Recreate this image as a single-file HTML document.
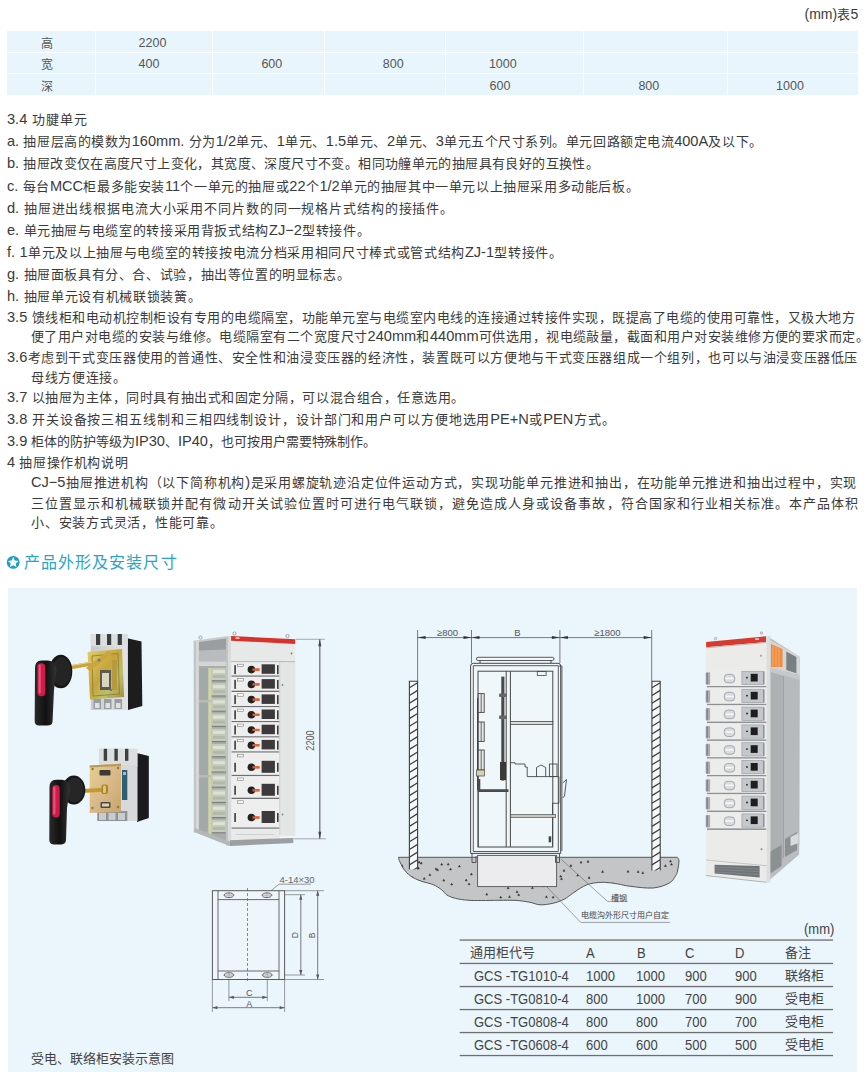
<!DOCTYPE html>
<html lang="zh-CN"><head><meta charset="utf-8">
<style>
*{margin:0;padding:0;box-sizing:border-box}
html,body{width:867px;height:1072px;background:#fff;overflow:hidden}
body{position:relative;font-family:"Liberation Sans",sans-serif;color:#3a3a3a}
i{font-style:normal}
body{text-spacing-trim:space-all}
.z{font-size:13px;letter-spacing:var(--ls,0.3px)}
.a{position:absolute;white-space:nowrap}
#tbl{position:absolute;left:0;top:0}
.tc{position:absolute;font-size:12.5px;line-height:14px;color:#555;white-space:nowrap}
.z2{font-size:12px}
.c{position:absolute;background:#e9f5fc}
.L{position:absolute;left:7px;font-size:14.6px;line-height:16px;height:16px;white-space:nowrap}
.L.ind{left:31px}
.J{text-align:justify;text-align-last:justify}
#pic{position:absolute;left:8px;top:588px;width:849px;height:484px;background:#eaf5fc}
.dt{position:absolute;font-size:11px;line-height:12px;color:#555;white-space:nowrap}
.lb{position:absolute;font-size:8px;line-height:10px;color:#444;white-space:nowrap}
.bt{position:absolute;font-size:13px;line-height:16px;color:#444;white-space:nowrap}
.bt.cx{font-size:14.3px;transform:scaleX(0.91);transform-origin:0 0}
.st{font-family:"Liberation Sans",sans-serif;font-size:11px;fill:#555}
</style></head><body>
<div class="a" style="left:804.5px;top:4px;font-size:14px">(mm)<i class="z">表</i>5</div>

<div id="tbl">
<div class="c" style="left:7px;top:31px;width:87.9px;height:21.4px"></div>
<div class="c" style="left:95.9px;top:31px;width:116.0px;height:21.4px"></div>
<div class="c" style="left:212.9px;top:31px;width:111.0px;height:21.4px"></div>
<div class="c" style="left:324.9px;top:31px;width:120.0px;height:21.4px"></div>
<div class="c" style="left:445.9px;top:31px;width:136.7px;height:21.4px"></div>
<div class="c" style="left:583.6px;top:31px;width:143.0px;height:21.4px"></div>
<div class="c" style="left:727.6px;top:31px;width:130.7px;height:21.4px"></div>
<div class="c" style="left:7px;top:53.4px;width:87.9px;height:20.0px"></div>
<div class="c" style="left:95.9px;top:53.4px;width:116.0px;height:20.0px"></div>
<div class="c" style="left:212.9px;top:53.4px;width:111.0px;height:20.0px"></div>
<div class="c" style="left:324.9px;top:53.4px;width:120.0px;height:20.0px"></div>
<div class="c" style="left:445.9px;top:53.4px;width:136.7px;height:20.0px"></div>
<div class="c" style="left:583.6px;top:53.4px;width:143.0px;height:20.0px"></div>
<div class="c" style="left:727.6px;top:53.4px;width:130.7px;height:20.0px"></div>
<div class="c" style="left:7px;top:74.4px;width:87.9px;height:20.4px"></div>
<div class="c" style="left:95.9px;top:74.4px;width:116.0px;height:20.4px"></div>
<div class="c" style="left:212.9px;top:74.4px;width:111.0px;height:20.4px"></div>
<div class="c" style="left:324.9px;top:74.4px;width:120.0px;height:20.4px"></div>
<div class="c" style="left:445.9px;top:74.4px;width:136.7px;height:20.4px"></div>
<div class="c" style="left:583.6px;top:74.4px;width:143.0px;height:20.4px"></div>
<div class="c" style="left:727.6px;top:74.4px;width:130.7px;height:20.4px"></div>
<div class="tc z2" style="left:41px;top:37px">高</div>
<div class="tc z2" style="left:41px;top:58px">宽</div>
<div class="tc z2" style="left:41px;top:80px">深</div>
<div class="tc" style="left:138.6px;top:36px">2200</div>
<div class="tc" style="left:138.6px;top:57px">400</div>
<div class="tc" style="left:261.4px;top:57px">600</div>
<div class="tc" style="left:382.8px;top:57px">800</div>
<div class="tc" style="left:488.90000000000003px;top:57px">1000</div>
<div class="tc" style="left:489.6px;top:78.5px">600</div>
<div class="tc" style="left:638.4px;top:78.5px">800</div>
<div class="tc" style="left:776.1px;top:78.5px">1000</div>
</div>
<div class="L J" style="top:111px;width:80.30px">3.4 <i class="z">功腱单元</i></div>
<div class="L J" style="top:133px;width:755.38px">a. <i class="z">抽屉层高的模数为</i>160mm. <i class="z">分为</i>1/2<i class="z">单元、</i>1<i class="z">单元、</i>1.5<i class="z">单元、</i>2<i class="z">单元、</i>3<i class="z">单元五个尺寸系列。单元回路额定电流</i>400A<i class="z">及以下。</i></div>
<div class="L J" style="top:155px;width:592.11px">b. <i class="z">抽屉改变仅在高度尺寸上变化，其宽度、深度尺寸不变。相同功艟单元的抽屉具有良好的互换性。</i></div>
<div class="L J" style="top:178px;width:631.85px">c. <i class="z">每台</i>MCC<i class="z">柜最多能安装</i>11<i class="z">个一单元的抽屉或</i>22<i class="z">个</i>1/2<i class="z">单元的抽屉其中一单元以上抽屉采用多动能后板。</i></div>
<div class="L J" style="top:200px;width:446.55px">d. <i class="z">抽屉进出线根据电流大小采用不同片数的同一规格片式结构的接插件。</i></div>
<div class="L J" style="top:222px;width:363.02px">e. <i class="z">单元抽屉与电缆室的转接采用背扳式结构</i>ZJ−2<i class="z">型转接件。</i></div>
<div class="L J" style="top:244px;width:555.35px">f. 1<i class="z">单元及以上抽屉与电缆室的转接按电流分档采用相同尺寸棒式或管式结构</i>ZJ-1<i class="z">型转接件。</i></div>
<div class="L J" style="top:266px;width:343.01px">g. <i class="z">抽屉面板具有分、合、试验，抽出等位置的明显标志。</i></div>
<div class="L J" style="top:288px;width:193.91px">h. <i class="z">抽屉单元设有机械联锁装簧。</i></div>
<div class="L J" style="top:309px;width:848.23px">3.5 <i class="z">馈线柜和电动机控制柜设有专用的电缆隔室，功能单元室与电缆室内电线的连接通过转接件实现，既提高了电缆的使用可靠性，又极大地方</i></div>
<div class="L ind J" style="top:328px;width:838.06px"><i class="z">便了用户对电缆的安装与维修。电缆隔室有二个宽度尺寸</i>240mm<i class="z">和</i>440mm<i class="z">可供选用，视电缆敲量，截面和用户对安装维修方便的要求而定。</i></div>
<div class="L J" style="top:349px;width:850.78px">3.6<i class="z">考虑到干式变压器使用的普通性、安全性和油浸变压器的经济性，装置既可以方便地与干式变压器组成一个组列，也可以与油浸变压器低压</i></div>
<div class="L ind J" style="top:369px;width:95.11px"><i class="z">母线方便连接。</i></div>
<div class="L J" style="top:389px;width:457.72px">3.7 <i class="z">以抽屉为主体，同时具有抽出式和固定分隔，可以混合组合，任意选用。</i></div>
<div class="L J" style="top:411px;width:608.02px">3.8 <i class="z">开关设备按三相五线制和三相四线制设计，设计部门和用户可以方便地选用</i>PE+N<i class="z">或</i>PEN<i class="z">方式。</i></div>
<div class="L J" style="top:433px;--ls:-0.2px;width:369.02px">3.9 <i class="z">柜体的防护等级为</i>IP30<i class="z">、</i>IP40<i class="z">，也可按用户需要特殊制作。</i></div>
<div class="L J" style="top:454px;width:120.93px">4 <i class="z">抽屉操作机构说明</i></div>
<div class="L ind J" style="top:474px;width:825.64px">CJ−5<i class="z">抽屉推进机构（以下简称机构</i>)<i class="z">是采用螺旋轨迹沿定位件运动方式，实现功能单元推进和抽出，在功能单元推进和抽出过程中，实现</i></div>
<div class="L ind J" style="top:495px;width:827.46px"><i class="z">三位置显示和机械联锁并配有微动开关试验位置时可进行电气联锁，避免造成人身或设备事故，符合国家和行业相关标准。本产品体积</i></div>
<div class="L ind J" style="top:514px;width:192.19px"><i class="z">小、安装方式灵活，性能可靠。</i></div>

<svg class="a" style="left:6px;top:555px" width="15" height="15" viewBox="0 0 15 15"><circle cx="7.2" cy="7.4" r="6.4" fill="#1f9fc4"/><path d="M7.20 2.10 L8.73 5.50 L12.43 5.90 L9.67 8.40 L10.43 12.05 L7.20 10.20 L3.97 12.05 L4.73 8.40 L1.97 5.90 L5.67 5.50 Z" fill="#fff"/></svg>
<div class="a" style="left:23.8px;top:552.5px;font-size:16px;letter-spacing:1.1px;line-height:20px;color:#2aa3c8">产品外形及安装尺寸</div>
<div id="pic"></div>
<svg class="a" style="left:0;top:0" width="867" height="1072" viewBox="0 0 867 1072">
<line x1="417.6" y1="630" x2="417.6" y2="681" stroke="#5a5a5a" stroke-width="0.8" />
<line x1="471.5" y1="630" x2="471.5" y2="663" stroke="#5a5a5a" stroke-width="0.8" />
<line x1="559.9" y1="630" x2="559.9" y2="663" stroke="#5a5a5a" stroke-width="0.8" />
<line x1="651.7" y1="630" x2="651.7" y2="681" stroke="#5a5a5a" stroke-width="0.8" />
<line x1="417.6" y1="637.6" x2="651.7" y2="637.6" stroke="#5a5a5a" stroke-width="0.8" />
<path d="M417.60 637.60 L425.60 636.10 L425.60 639.10 Z" fill="#333"/>
<path d="M471.50 637.60 L463.50 639.10 L463.50 636.10 Z" fill="#333"/>
<path d="M417.61 637.60 L417.60 637.61 L417.60 637.59 Z" fill="#5a5a5a"/>
<path d="M471.50 637.60 L479.50 636.10 L479.50 639.10 Z" fill="#333"/>
<path d="M559.90 637.60 L551.90 639.10 L551.90 636.10 Z" fill="#333"/>
<path d="M471.51 637.60 L471.50 637.61 L471.50 637.59 Z" fill="#5a5a5a"/>
<path d="M559.90 637.60 L567.90 636.10 L567.90 639.10 Z" fill="#333"/>
<path d="M651.70 637.60 L643.70 639.10 L643.70 636.10 Z" fill="#333"/>
<path d="M559.91 637.60 L559.90 637.61 L559.90 637.59 Z" fill="#5a5a5a"/>
<path d="M677.3 857.3 C677.6 857.9 679.0 858.7 679.0 861.0 C679.0 863.3 678.1 868.5 677.5 871.0 C676.9 873.5 677.0 873.8 675.6 875.8 C674.2 877.8 673.0 881.1 669.2 883.1 C665.4 885.1 659.5 887.5 653.0 888.0 C646.5 888.5 636.3 887.0 630.4 886.3 C624.5 885.6 621.8 884.6 617.5 883.9 C613.2 883.2 608.6 882.4 604.6 882.3 C600.6 882.2 596.8 882.4 593.3 883.1 C589.8 883.8 587.1 884.5 583.6 886.3 C580.1 888.0 575.5 891.5 572.3 893.6 C569.1 895.8 567.4 897.6 564.2 899.2 C561.0 900.8 556.9 902.4 552.9 903.3 C548.9 904.2 543.8 905.0 540.0 904.8 C536.2 904.6 534.0 903.0 530.0 902.3 C526.0 901.6 521.3 900.7 516.1 900.4 C510.9 900.1 504.6 900.3 498.8 900.3 C493.0 900.3 486.7 900.5 481.5 900.5 C476.3 900.5 472.0 900.6 467.7 900.2 C463.4 899.9 459.1 899.3 455.6 898.4 C452.1 897.5 449.2 896.4 446.9 895.0 C444.6 893.6 444.0 891.5 441.7 889.8 C439.4 888.1 436.6 886.0 433.1 884.6 C429.7 883.2 424.8 882.5 421.0 881.1 C417.2 879.7 413.5 878.0 410.6 876.0 C407.7 874.0 405.6 871.6 403.7 869.0 C401.8 866.4 400.2 862.4 399.3 860.4 C398.4 858.4 398.6 857.8 398.5 857.3 Z" fill="#c3c5c7" stroke="#555" stroke-width="1"/>
<clipPath id="cfl"><path d="M677.3 857.3 C677.6 857.9 679.0 858.7 679.0 861.0 C679.0 863.3 678.1 868.5 677.5 871.0 C676.9 873.5 677.0 873.8 675.6 875.8 C674.2 877.8 673.0 881.1 669.2 883.1 C665.4 885.1 659.5 887.5 653.0 888.0 C646.5 888.5 636.3 887.0 630.4 886.3 C624.5 885.6 621.8 884.6 617.5 883.9 C613.2 883.2 608.6 882.4 604.6 882.3 C600.6 882.2 596.8 882.4 593.3 883.1 C589.8 883.8 587.1 884.5 583.6 886.3 C580.1 888.0 575.5 891.5 572.3 893.6 C569.1 895.8 567.4 897.6 564.2 899.2 C561.0 900.8 556.9 902.4 552.9 903.3 C548.9 904.2 543.8 905.0 540.0 904.8 C536.2 904.6 534.0 903.0 530.0 902.3 C526.0 901.6 521.3 900.7 516.1 900.4 C510.9 900.1 504.6 900.3 498.8 900.3 C493.0 900.3 486.7 900.5 481.5 900.5 C476.3 900.5 472.0 900.6 467.7 900.2 C463.4 899.9 459.1 899.3 455.6 898.4 C452.1 897.5 449.2 896.4 446.9 895.0 C444.6 893.6 444.0 891.5 441.7 889.8 C439.4 888.1 436.6 886.0 433.1 884.6 C429.7 883.2 424.8 882.5 421.0 881.1 C417.2 879.7 413.5 878.0 410.6 876.0 C407.7 874.0 405.6 871.6 403.7 869.0 C401.8 866.4 400.2 862.4 399.3 860.4 C398.4 858.4 398.6 857.8 398.5 857.3 Z"/></clipPath>
<path d="M490.1 866.5l1 -1.8l1 1.8zM580.0 863.1l1 -1.8l1 1.8zM548.4 875.7l1 -1.8l1 1.8zM416.9 881.8l1 -1.8l1 1.8zM411.3 878.6l1 -1.8l1 1.8zM420.2 863.9l1 -1.8l1 1.8zM517.7 895.6l1 -1.8l1 1.8zM435.0 869.6l1 -1.8l1 1.8zM573.5 900.8l1 -1.8l1 1.8zM559.7 877.1l1 -1.8l1 1.8zM669.5 862.0l1 -1.8l1 1.8zM637.1 872.5l1 -1.8l1 1.8zM440.7 865.1l1 -1.8l1 1.8zM485.8 895.1l1 -1.8l1 1.8zM450.7 885.0l1 -1.8l1 1.8zM576.7 876.0l1 -1.8l1 1.8zM551.6 862.7l1 -1.8l1 1.8zM417.4 868.9l1 -1.8l1 1.8zM588.1 878.4l1 -1.8l1 1.8zM487.4 885.2l1 -1.8l1 1.8zM525.6 872.9l1 -1.8l1 1.8zM619.5 890.1l1 -1.8l1 1.8zM468.1 884.7l1 -1.8l1 1.8zM545.4 897.6l1 -1.8l1 1.8zM601.6 872.4l1 -1.8l1 1.8zM670.5 865.1l1 -1.8l1 1.8zM516.0 892.6l1 -1.8l1 1.8zM442.8 881.0l1 -1.8l1 1.8zM411.8 888.7l1 -1.8l1 1.8zM611.3 884.6l1 -1.8l1 1.8zM641.8 873.5l1 -1.8l1 1.8zM592.2 885.6l1 -1.8l1 1.8zM560.5 879.6l1 -1.8l1 1.8zM632.0 900.6l1 -1.8l1 1.8zM531.4 888.6l1 -1.8l1 1.8zM417.7 890.2l1 -1.8l1 1.8zM579.0 902.7l1 -1.8l1 1.8zM627.0 872.2l1 -1.8l1 1.8zM507.1 888.8l1 -1.8l1 1.8zM407.2 879.9l1 -1.8l1 1.8zM447.2 865.0l1 -1.8l1 1.8zM417.2 893.0l1 -1.8l1 1.8zM436.6 870.6l1 -1.8l1 1.8zM508.5 897.5l1 -1.8l1 1.8zM423.2 879.3l1 -1.8l1 1.8zM552.1 898.0l1 -1.8l1 1.8zM626.3 897.2l1 -1.8l1 1.8zM477.6 877.9l1 -1.8l1 1.8zM499.7 898.0l1 -1.8l1 1.8zM664.4 866.5l1 -1.8l1 1.8zM449.5 870.0l1 -1.8l1 1.8zM465.2 880.9l1 -1.8l1 1.8zM563.0 871.3l1 -1.8l1 1.8zM402.1 878.0l1 -1.8l1 1.8zM502.5 884.4l1 -1.8l1 1.8zM663.1 889.7l1 -1.8l1 1.8zM542.8 886.6l1 -1.8l1 1.8zM587.0 862.3l1 -1.8l1 1.8zM648.4 893.5l1 -1.8l1 1.8zM641.5 894.3l1 -1.8l1 1.8zM508.9 877.2l1 -1.8l1 1.8zM429.5 887.3l1 -1.8l1 1.8zM418.1 862.9l1 -1.8l1 1.8zM458.4 867.0l1 -1.8l1 1.8zM494.5 862.3l1 -1.8l1 1.8zM401.1 866.5l1 -1.8l1 1.8zM428.9 875.6l1 -1.8l1 1.8zM408.0 897.6l1 -1.8l1 1.8zM569.9 866.4l1 -1.8l1 1.8zM470.4 874.9l1 -1.8l1 1.8z" fill="#333" stroke="#333" stroke-width="0.5" clip-path="url(#cfl)"/>
<rect x="409.4" y="681.2" width="8.200000000000045" height="188.29999999999995" fill="#f4f8fa"/>
<clipPath id="cw1"><rect x="409.4" y="681.2" width="8.200000000000045" height="188.29999999999995"/></clipPath>
<path d="M409.4 687.8 L417.6 682.7 M409.4 695.5 L417.6 690.4 M409.4 703.2 L417.6 698.1 M409.4 710.9 L417.6 705.8 M409.4 718.6 L417.6 713.5 M409.4 726.3 L417.6 721.2 M409.4 734.0 L417.6 728.9 M409.4 741.7 L417.6 736.6 M409.4 749.4 L417.6 744.3 M409.4 757.1 L417.6 752.0 M409.4 764.8 L417.6 759.7 M409.4 772.5 L417.6 767.4 M409.4 780.2 L417.6 775.1 M409.4 787.9 L417.6 782.8 M409.4 795.6 L417.6 790.5 M409.4 803.3 L417.6 798.2 M409.4 811.0 L417.6 805.9 M409.4 818.7 L417.6 813.6 M409.4 826.4 L417.6 821.3 M409.4 834.1 L417.6 829.0 M409.4 841.8 L417.6 836.7 M409.4 849.5 L417.6 844.4 M409.4 857.2 L417.6 852.1 M409.4 864.9 L417.6 859.8 M409.4 872.6 L417.6 867.5 M409.4 880.3 L417.6 875.2 " stroke="#3e3e3e" stroke-width="1.25" clip-path="url(#cw1)"/>
<path d="M409.4 869.5 L409.4 681.2 L417.6 681.2 L417.6 869.5" fill="none" stroke="#3e3e3e" stroke-width="1.1"/>
<rect x="651.9" y="681.2" width="8.300000000000068" height="189.29999999999995" fill="#f4f8fa"/>
<clipPath id="cw2"><rect x="651.9" y="681.2" width="8.300000000000068" height="189.29999999999995"/></clipPath>
<path d="M651.9 687.8 L660.2 682.7 M651.9 695.5 L660.2 690.4 M651.9 703.2 L660.2 698.1 M651.9 710.9 L660.2 705.8 M651.9 718.6 L660.2 713.5 M651.9 726.3 L660.2 721.2 M651.9 734.0 L660.2 728.9 M651.9 741.7 L660.2 736.6 M651.9 749.4 L660.2 744.3 M651.9 757.1 L660.2 752.0 M651.9 764.8 L660.2 759.7 M651.9 772.5 L660.2 767.4 M651.9 780.2 L660.2 775.1 M651.9 787.9 L660.2 782.8 M651.9 795.6 L660.2 790.5 M651.9 803.3 L660.2 798.2 M651.9 811.0 L660.2 805.9 M651.9 818.7 L660.2 813.6 M651.9 826.4 L660.2 821.3 M651.9 834.1 L660.2 829.0 M651.9 841.8 L660.2 836.7 M651.9 849.5 L660.2 844.4 M651.9 857.2 L660.2 852.1 M651.9 864.9 L660.2 859.8 M651.9 872.6 L660.2 867.5 M651.9 880.3 L660.2 875.2 " stroke="#3e3e3e" stroke-width="1.25" clip-path="url(#cw2)"/>
<path d="M651.9 870.5 L651.9 681.2 L660.2 681.2 L660.2 870.5" fill="none" stroke="#3e3e3e" stroke-width="1.1"/>
<rect x="477.6" y="855.4" width="79" height="31.2" fill="#ececee" stroke="#555" stroke-width="0.9"/>
<path d="M472 853.4 L472 862.5 L476 862.5 L476 856 M559.5 853.4 L559.5 862.5 L555.5 862.5 L555.5 856" fill="none" stroke="#555" stroke-width="1"/>
<rect x="476.5" y="657.3" width="77.5" height="3.2" rx="1.5" fill="#f4f6f7" stroke="#474747" stroke-width="0.9"/>
<path d="M480 660.5 V663 M551 660.5 V663" stroke="#474747" stroke-width="1"/>
<path d="M470.6 853.4 V666 Q470.6 663.3 473.3 663.3 H558 Q560.7 663.3 560.7 666 V853.4 Z" fill="#eff7fb" stroke="#474747" stroke-width="1"/>
<path d="M473.3 851.5 V665.7 H558.3 V851.5 Z" fill="none" stroke="#474747" stroke-width="0.9"/>
<rect x="478" y="671.2" width="74.8" height="175.8" fill="none" stroke="#474747" stroke-width="1"/>
<path d="M558.9 666 H561.9 V851" fill="none" stroke="#474747" stroke-width="0.9"/>
<line x1="506.2" y1="671.2" x2="506.2" y2="847" stroke="#474747" stroke-width="1" />
<line x1="510.4" y1="671.2" x2="510.4" y2="847" stroke="#474747" stroke-width="1" />
<rect x="510.4" y="721.5" width="42.4" height="3" fill="#d9dcdc" stroke="#474747" stroke-width="0.8"/>
<rect x="501.3" y="676.6" width="3.1" height="104" fill="#4a4a4a"/>
<rect x="499" y="693.5" width="8" height="3.6" rx="1" fill="#666"/>
<rect x="499" y="715.5" width="8" height="3.6" rx="1" fill="#666"/>
<rect x="500" y="762" width="6" height="18" fill="#3a3a3a"/>
<line x1="477.8" y1="698" x2="477.8" y2="790" stroke="#333" stroke-width="1.3" />
<rect x="478.2" y="693.6" width="6" height="18.799999999999955" fill="#e6e8e8" stroke="#444" stroke-width="0.9"/>
<line x1="481.2" y1="693.6" x2="481.2" y2="712.4" stroke="#474747" stroke-width="0.8" />
<rect x="478.2" y="722" width="6" height="19.399999999999977" fill="#e6e8e8" stroke="#444" stroke-width="0.9"/>
<line x1="481.2" y1="722" x2="481.2" y2="741.4" stroke="#474747" stroke-width="0.8" />
<rect x="478.2" y="750" width="6" height="20" fill="#e6e8e8" stroke="#444" stroke-width="0.9"/>
<line x1="481.2" y1="750" x2="481.2" y2="770" stroke="#474747" stroke-width="0.8" />
<rect x="476.5" y="770" width="8" height="6" fill="#d8d0b0" stroke="#444" stroke-width="0.7"/>
<path d="M479 779 V790.6 H508.5" fill="none" stroke="#4a4a4a" stroke-width="2.6"/>
<line x1="478.3" y1="790.6" x2="478.3" y2="847" stroke="#474747" stroke-width="0.9" />
<rect x="537.3" y="671.6" width="8.8" height="3.8" fill="none" stroke="#474747" stroke-width="0.8"/>
<path d="M510.4 762.7 H515 V764 H525 V767 H527.2 V776.6 H558.9 V803.3 H552.5 V846.4" fill="none" stroke="#474747" stroke-width="0.9"/>
<path d="M536.5 776.6 V767.5 L541 765 L545.7 767.5 V776.6" fill="none" stroke="#474747" stroke-width="0.9"/>
<rect x="549.4" y="764" width="7.6" height="12.6" fill="none" stroke="#474747" stroke-width="0.9"/>
<path d="M562.7 783 L566.5 779.5 L564.5 796 L562.7 798" fill="none" stroke="#474747" stroke-width="0.9"/>
<rect x="510.7" y="814.7" width="45" height="2.6" fill="#cfcdc4" stroke="#474747" stroke-width="0.7"/>
<rect x="548.7" y="836.3" width="2.5" height="6" fill="#444"/>
<line x1="561.3" y1="859.4" x2="607.5" y2="901.4" stroke="#666" stroke-width="0.6" />
<line x1="607.5" y1="901.4" x2="627.6" y2="901.4" stroke="#666" stroke-width="0.6" />
<line x1="546.8" y1="886.8" x2="580.7" y2="922.4" stroke="#666" stroke-width="0.6" />
<line x1="580.7" y1="922.4" x2="670" y2="922.4" stroke="#666" stroke-width="0.6" />
<rect x="212.4" y="890.7" width="72.2" height="88.8" fill="#eef6fb" stroke="#5a5a5a" stroke-width="1"/>
<line x1="218" y1="890.7" x2="218" y2="979.5" stroke="#5a5a5a" stroke-width="0.9" />
<line x1="279" y1="890.7" x2="279" y2="979.5" stroke="#5a5a5a" stroke-width="0.9" />
<line x1="218" y1="899.6" x2="279" y2="899.6" stroke="#5a5a5a" stroke-width="0.9" />
<line x1="218" y1="971" x2="279" y2="971" stroke="#5a5a5a" stroke-width="0.9" />
<ellipse cx="228.9" cy="895.2" rx="4.6" ry="2.3" fill="#e4e8ea" stroke="#5a5a5a" stroke-width="0.9"/>
<path d="M222.9 895.2 H234.9 M228.9 891.7 V898.7" stroke="#888" stroke-width="0.5"/>
<ellipse cx="266.9" cy="895.2" rx="4.6" ry="2.3" fill="#e4e8ea" stroke="#5a5a5a" stroke-width="0.9"/>
<path d="M260.9 895.2 H272.9 M266.9 891.7 V898.7" stroke="#888" stroke-width="0.5"/>
<ellipse cx="228.9" cy="975" rx="4.6" ry="2.3" fill="#e4e8ea" stroke="#5a5a5a" stroke-width="0.9"/>
<path d="M222.9 975 H234.9 M228.9 971.5 V978.5" stroke="#888" stroke-width="0.5"/>
<ellipse cx="267.3" cy="975" rx="4.6" ry="2.3" fill="#e4e8ea" stroke="#5a5a5a" stroke-width="0.9"/>
<path d="M261.3 975 H273.3 M267.3 971.5 V978.5" stroke="#888" stroke-width="0.5"/>
<line x1="247.5" y1="888" x2="247.5" y2="983" stroke="#5a5a5a" stroke-width="0.7" stroke-dasharray="3 2"/>
<line x1="270.9" y1="890.7" x2="279" y2="884.2" stroke="#5a5a5a" stroke-width="0.6" />
<line x1="279" y1="884.2" x2="311" y2="884.2" stroke="#5a5a5a" stroke-width="0.6" />
<line x1="284.6" y1="894.7" x2="305" y2="894.7" stroke="#5a5a5a" stroke-width="0.6" />
<line x1="284.6" y1="975" x2="305" y2="975" stroke="#5a5a5a" stroke-width="0.6" />
<line x1="300.8" y1="894.7" x2="300.8" y2="975" stroke="#5a5a5a" stroke-width="0.8" />
<path d="M300.80 894.70 L302.40 899.70 L299.20 899.70 Z" fill="#5a5a5a"/>
<path d="M300.80 975.00 L299.20 970.00 L302.40 970.00 Z" fill="#5a5a5a"/>
<line x1="284.6" y1="890.7" x2="324" y2="890.7" stroke="#5a5a5a" stroke-width="0.6" />
<line x1="284.6" y1="979.5" x2="324" y2="979.5" stroke="#5a5a5a" stroke-width="0.6" />
<line x1="317.7" y1="890.7" x2="317.7" y2="979.5" stroke="#5a5a5a" stroke-width="0.8" />
<path d="M317.70 890.70 L319.30 895.70 L316.10 895.70 Z" fill="#5a5a5a"/>
<path d="M317.70 979.50 L316.10 974.50 L319.30 974.50 Z" fill="#5a5a5a"/>
<text x="0" y="0" transform="translate(298.4 935.3) rotate(-90)" class="st" text-anchor="middle" style="font-size:8.5px">D</text>
<text x="0" y="0" transform="translate(315.3 935.3) rotate(-90)" class="st" text-anchor="middle" style="font-size:8.5px">B</text>
<line x1="228.9" y1="979.5" x2="228.9" y2="1001" stroke="#5a5a5a" stroke-width="0.6" />
<line x1="267.3" y1="979.5" x2="267.3" y2="1001" stroke="#5a5a5a" stroke-width="0.6" />
<line x1="228.9" y1="997.3" x2="267.3" y2="997.3" stroke="#5a5a5a" stroke-width="0.8" />
<path d="M228.90 997.30 L233.90 995.70 L233.90 998.90 Z" fill="#5a5a5a"/>
<path d="M267.30 997.30 L262.30 998.90 L262.30 995.70 Z" fill="#5a5a5a"/>
<line x1="212.4" y1="979.5" x2="212.4" y2="1012" stroke="#5a5a5a" stroke-width="0.6" />
<line x1="284.6" y1="979.5" x2="284.6" y2="1012" stroke="#5a5a5a" stroke-width="0.6" />
<line x1="212.4" y1="1007.7" x2="284.6" y2="1007.7" stroke="#5a5a5a" stroke-width="0.8" />
<path d="M212.40 1007.70 L217.40 1006.10 L217.40 1009.30 Z" fill="#5a5a5a"/>
<path d="M284.60 1007.70 L279.60 1009.30 L279.60 1006.10 Z" fill="#5a5a5a"/>
<rect x="459.7" y="939.4" width="373.3" height="1.3" fill="#6e6e6e"/>
<rect x="459.7" y="962.8" width="373.3" height="1.3" fill="#6e6e6e"/>
<rect x="459.7" y="985.9" width="373.3" height="1.3" fill="#6e6e6e"/>
<rect x="459.7" y="1008.9" width="373.3" height="1.3" fill="#6e6e6e"/>
<rect x="459.7" y="1031.9" width="373.3" height="1.3" fill="#6e6e6e"/>
<rect x="459.7" y="1054.9" width="373.3" height="1.3" fill="#6e6e6e"/>
<path d="M193.7 640.7 L226 636.2 L231.1 636 L231.1 846 L229.9 846 L194.3 832 Z" fill="#c9cccd"/>
<path d="M198.8 642 L226 638.5 L226 661.6 L198.8 662.5 Z" fill="#9a9ea1"/>
<path d="M198.8 650.5 L226 649.5 L226 661.6 L198.8 662.5 Z" fill="#b9bcbe"/>
<rect x="198.8" y="661.6" width="27.2" height="4.4" fill="#d4d6d6"/>
<path d="M198.8 666 L226 666 L226 842 L198.8 831.5 Z" fill="#a9adae"/>
<rect x="199.5" y="668" width="8.5" height="163" fill="#a3a8a9"/>
<rect x="208.3" y="668" width="3.4" height="168" fill="#cfd5a6"/>
<rect x="211.8" y="668.0" width="14" height="13.2" fill="#c4cbbd"/>
<rect x="213" y="670.0" width="12" height="3" fill="#dde3cf"/>
<rect x="213" y="675.0" width="12" height="3" fill="#b2b9aa"/>
<rect x="211.8" y="680.2" width="14" height="1.2" fill="#7c8078"/>
<rect x="211.8" y="683.2" width="14" height="13.2" fill="#c4cbbd"/>
<rect x="213" y="685.2" width="12" height="3" fill="#dde3cf"/>
<rect x="213" y="690.2" width="12" height="3" fill="#b2b9aa"/>
<rect x="211.8" y="695.4" width="14" height="1.2" fill="#7c8078"/>
<rect x="211.8" y="698.4" width="14" height="13.2" fill="#c4cbbd"/>
<rect x="213" y="700.4" width="12" height="3" fill="#dde3cf"/>
<rect x="213" y="705.4" width="12" height="3" fill="#b2b9aa"/>
<rect x="211.8" y="710.6" width="14" height="1.2" fill="#7c8078"/>
<rect x="211.8" y="713.6" width="14" height="13.2" fill="#c4cbbd"/>
<rect x="213" y="715.6" width="12" height="3" fill="#dde3cf"/>
<rect x="213" y="720.6" width="12" height="3" fill="#b2b9aa"/>
<rect x="211.8" y="725.8" width="14" height="1.2" fill="#7c8078"/>
<rect x="211.8" y="728.8" width="14" height="13.2" fill="#c4cbbd"/>
<rect x="213" y="730.8" width="12" height="3" fill="#dde3cf"/>
<rect x="213" y="735.8" width="12" height="3" fill="#b2b9aa"/>
<rect x="211.8" y="741.0" width="14" height="1.2" fill="#7c8078"/>
<rect x="211.8" y="744.0" width="14" height="13.2" fill="#c4cbbd"/>
<rect x="213" y="746.0" width="12" height="3" fill="#dde3cf"/>
<rect x="213" y="751.0" width="12" height="3" fill="#b2b9aa"/>
<rect x="211.8" y="756.2" width="14" height="1.2" fill="#7c8078"/>
<rect x="211.8" y="759.2" width="14" height="13.2" fill="#c4cbbd"/>
<rect x="213" y="761.2" width="12" height="3" fill="#dde3cf"/>
<rect x="213" y="766.2" width="12" height="3" fill="#b2b9aa"/>
<rect x="211.8" y="771.4" width="14" height="1.2" fill="#7c8078"/>
<rect x="211.8" y="774.4" width="14" height="13.2" fill="#c4cbbd"/>
<rect x="213" y="776.4" width="12" height="3" fill="#dde3cf"/>
<rect x="213" y="781.4" width="12" height="3" fill="#b2b9aa"/>
<rect x="211.8" y="786.6" width="14" height="1.2" fill="#7c8078"/>
<rect x="211.8" y="789.6" width="14" height="13.2" fill="#c4cbbd"/>
<rect x="213" y="791.6" width="12" height="3" fill="#dde3cf"/>
<rect x="213" y="796.6" width="12" height="3" fill="#b2b9aa"/>
<rect x="211.8" y="801.8" width="14" height="1.2" fill="#7c8078"/>
<rect x="211.8" y="804.8" width="14" height="13.2" fill="#c4cbbd"/>
<rect x="213" y="806.8" width="12" height="3" fill="#dde3cf"/>
<rect x="213" y="811.8" width="12" height="3" fill="#b2b9aa"/>
<rect x="211.8" y="817.0" width="14" height="1.2" fill="#7c8078"/>
<rect x="211.8" y="820.0" width="14" height="13.2" fill="#c4cbbd"/>
<rect x="213" y="822.0" width="12" height="3" fill="#dde3cf"/>
<rect x="213" y="827.0" width="12" height="3" fill="#b2b9aa"/>
<rect x="211.8" y="832.2" width="14" height="1.2" fill="#7c8078"/>
<rect x="193.7" y="640.7" width="5.1" height="192" fill="#d6d8d8"/>
<rect x="194.5" y="641" width="1" height="191" fill="#aeb1b2"/>
<rect x="198.8" y="700" width="12" height="2.4" fill="#b9bdb0"/>
<rect x="198.8" y="775" width="12" height="2.4" fill="#b9bdb0"/>
<rect x="226" y="636.2" width="5.1" height="209.8" fill="#d9dbdb"/>
<rect x="226.5" y="637" width="1" height="208" fill="#a8abac"/>
<path d="M194.3 828 L229.9 841.5 L229.9 846 L194.3 832 Z" fill="#b4b7b8"/>
<circle cx="200.5" cy="637.5" r="1.6" fill="none" stroke="#9a9a9a" stroke-width="0.9"/>
<circle cx="234.5" cy="633.5" r="1.6" fill="none" stroke="#9a9a9a" stroke-width="0.9"/>
<circle cx="287.5" cy="636" r="1.6" fill="none" stroke="#9a9a9a" stroke-width="0.9"/>
<path d="M231.1 636 L295.2 639.2 L295.2 836 L231.1 836 Z" fill="#e7e8e8"/>
<path d="M231.1 636 L295.2 639.2 L295.2 643.9 L231.1 640.7 Z" fill="#d8322b"/>
<rect x="235.5" y="637.3" width="4" height="1.6" fill="#f0d0c0"/>
<rect x="231.1" y="661" width="64" height="1.4" fill="#bcbebe"/>
<circle cx="291.5" cy="653.5" r="0.9" fill="#777"/>
<rect x="279.4" y="662.4" width="15.8" height="172.6" fill="#e4e5e5"/>
<rect x="279.4" y="662.4" width="0.8" height="172.6" fill="#c2c4c4"/>
<circle cx="282.5" cy="685" r="0.9" fill="#888"/>
<circle cx="282.5" cy="814.5" r="0.9" fill="#888"/>
<rect x="231.6" y="662.4" width="47.6" height="14.4" fill="#eeeeee"/>
<rect x="231.6" y="675.5" width="47.6" height="1.3" fill="#6d6f70"/>
<rect x="234.3" y="665.1" width="1.6" height="9" fill="#3a3a3a"/>
<rect x="277" y="665.1" width="1.6" height="9" fill="#3a3a3a"/>
<rect x="237.6" y="664.2" width="6" height="2.4" fill="#fafafa" stroke="#666" stroke-width="0.5"/>
<rect x="251" y="668.5" width="8.5" height="2.2" fill="#e4572c"/>
<circle cx="251.4" cy="669.6" r="3.8" fill="#222"/>
<rect x="252.5" y="668.5" width="7" height="2.2" fill="#e8602e"/>
<rect x="261.6" y="664.3" width="13.3" height="9.5" fill="#3d3a3d"/>
<rect x="231.6" y="676.8" width="47.6" height="15.2" fill="#eeeeee"/>
<rect x="231.6" y="690.7" width="47.6" height="1.3" fill="#6d6f70"/>
<rect x="234.3" y="679.9" width="1.6" height="9" fill="#3a3a3a"/>
<rect x="277" y="679.9" width="1.6" height="9" fill="#3a3a3a"/>
<rect x="237.6" y="678.6" width="6" height="2.4" fill="#fafafa" stroke="#666" stroke-width="0.5"/>
<rect x="251" y="683.3" width="8.5" height="2.2" fill="#e4572c"/>
<circle cx="251.4" cy="684.4" r="3.8" fill="#222"/>
<rect x="252.5" y="683.3" width="7" height="2.2" fill="#e8602e"/>
<rect x="261.6" y="679.1" width="13.3" height="9.5" fill="#3d3a3d"/>
<rect x="231.6" y="692.0" width="47.6" height="15.3" fill="#eeeeee"/>
<rect x="231.6" y="706.0" width="47.6" height="1.3" fill="#6d6f70"/>
<rect x="234.3" y="695.1" width="1.6" height="9" fill="#3a3a3a"/>
<rect x="277" y="695.1" width="1.6" height="9" fill="#3a3a3a"/>
<rect x="237.6" y="693.8" width="6" height="2.4" fill="#fafafa" stroke="#666" stroke-width="0.5"/>
<rect x="251" y="698.5" width="8.5" height="2.2" fill="#e4572c"/>
<circle cx="251.4" cy="699.6" r="3.8" fill="#222"/>
<rect x="252.5" y="698.5" width="7" height="2.2" fill="#e8602e"/>
<rect x="261.6" y="694.4" width="13.3" height="9.5" fill="#3d3a3d"/>
<rect x="231.6" y="707.3" width="47.6" height="15.0" fill="#eeeeee"/>
<rect x="231.6" y="721.0" width="47.6" height="1.3" fill="#6d6f70"/>
<rect x="234.3" y="710.3" width="1.6" height="9" fill="#3a3a3a"/>
<rect x="277" y="710.3" width="1.6" height="9" fill="#3a3a3a"/>
<rect x="237.6" y="709.1" width="6" height="2.4" fill="#fafafa" stroke="#666" stroke-width="0.5"/>
<rect x="251" y="713.7" width="8.5" height="2.2" fill="#e4572c"/>
<circle cx="251.4" cy="714.8" r="3.8" fill="#222"/>
<rect x="252.5" y="713.7" width="7" height="2.2" fill="#e8602e"/>
<rect x="261.6" y="709.5" width="13.3" height="9.5" fill="#3d3a3d"/>
<rect x="231.6" y="722.3" width="47.6" height="15.3" fill="#eeeeee"/>
<rect x="231.6" y="736.3" width="47.6" height="1.3" fill="#6d6f70"/>
<rect x="234.3" y="725.5" width="1.6" height="9" fill="#3a3a3a"/>
<rect x="277" y="725.5" width="1.6" height="9" fill="#3a3a3a"/>
<rect x="237.6" y="724.1" width="6" height="2.4" fill="#fafafa" stroke="#666" stroke-width="0.5"/>
<rect x="251" y="728.9" width="8.5" height="2.2" fill="#e4572c"/>
<circle cx="251.4" cy="730.0" r="3.8" fill="#222"/>
<rect x="252.5" y="728.9" width="7" height="2.2" fill="#e8602e"/>
<rect x="261.6" y="724.7" width="13.3" height="9.5" fill="#3d3a3d"/>
<rect x="231.6" y="737.6" width="47.6" height="15.1" fill="#eeeeee"/>
<rect x="231.6" y="751.4" width="47.6" height="1.3" fill="#6d6f70"/>
<rect x="234.3" y="740.7" width="1.6" height="9" fill="#3a3a3a"/>
<rect x="277" y="740.7" width="1.6" height="9" fill="#3a3a3a"/>
<rect x="237.6" y="739.4" width="6" height="2.4" fill="#fafafa" stroke="#666" stroke-width="0.5"/>
<rect x="251" y="744.1" width="8.5" height="2.2" fill="#e4572c"/>
<circle cx="251.4" cy="745.2" r="3.8" fill="#222"/>
<rect x="252.5" y="744.1" width="7" height="2.2" fill="#e8602e"/>
<rect x="261.6" y="739.9" width="13.3" height="9.5" fill="#3d3a3d"/>
<rect x="231.6" y="752.7" width="47.6" height="23.5" fill="#eeeeee"/>
<rect x="231.6" y="774.9" width="47.6" height="1.3" fill="#6d6f70"/>
<rect x="234.3" y="762.8" width="1.6" height="9" fill="#3a3a3a"/>
<rect x="277" y="762.8" width="1.6" height="9" fill="#3a3a3a"/>
<rect x="237.6" y="754.5" width="6" height="2.4" fill="#fafafa" stroke="#666" stroke-width="0.5"/>
<rect x="251" y="766.2" width="8.5" height="2.2" fill="#e4572c"/>
<circle cx="251.4" cy="767.3" r="3.8" fill="#222"/>
<rect x="252.5" y="766.2" width="7" height="2.2" fill="#e8602e"/>
<rect x="261.6" y="760.8" width="13.3" height="12.0" fill="#3d3a3d"/>
<rect x="231.6" y="776.2" width="47.6" height="22.8" fill="#eeeeee"/>
<rect x="231.6" y="797.7" width="47.6" height="1.3" fill="#6d6f70"/>
<rect x="234.3" y="785.8" width="1.6" height="9" fill="#3a3a3a"/>
<rect x="277" y="785.8" width="1.6" height="9" fill="#3a3a3a"/>
<rect x="237.6" y="778.0" width="6" height="2.4" fill="#fafafa" stroke="#666" stroke-width="0.5"/>
<rect x="251" y="789.2" width="8.5" height="2.2" fill="#e4572c"/>
<circle cx="251.4" cy="790.3" r="3.8" fill="#222"/>
<rect x="252.5" y="789.2" width="7" height="2.2" fill="#e8602e"/>
<rect x="261.6" y="783.8" width="13.3" height="12.0" fill="#3d3a3d"/>
<rect x="231.6" y="799.0" width="47.6" height="29.8" fill="#eeeeee"/>
<rect x="231.6" y="827.5" width="47.6" height="1.3" fill="#6d6f70"/>
<rect x="234.3" y="813.0" width="1.6" height="9" fill="#3a3a3a"/>
<rect x="277" y="813.0" width="1.6" height="9" fill="#3a3a3a"/>
<rect x="237.6" y="800.8" width="6" height="2.4" fill="#fafafa" stroke="#666" stroke-width="0.5"/>
<rect x="251" y="816.4" width="8.5" height="2.2" fill="#e4572c"/>
<circle cx="251.4" cy="817.5" r="3.8" fill="#222"/>
<rect x="252.5" y="816.4" width="7" height="2.2" fill="#e8602e"/>
<rect x="261.6" y="811.0" width="13.3" height="12.0" fill="#3d3a3d"/>
<rect x="231.1" y="828.8" width="48.3" height="11.4" fill="#e8e9e9"/>
<rect x="236" y="834" width="38" height="0.8" fill="#c8caca"/>
<path d="M229.9 840.2 L293.3 838 L293.3 843 L229.9 846 Z" fill="#9c9ea0"/>
<line x1="295.8" y1="639.3" x2="324.8" y2="639.3" stroke="#777" stroke-width="0.6" />
<line x1="293.7" y1="838.8" x2="325.8" y2="838.8" stroke="#777" stroke-width="0.6" />
<line x1="319.8" y1="639.3" x2="319.8" y2="838.8" stroke="#666" stroke-width="1.2" />
<path d="M319.80 639.30 L321.30 646.30 L318.30 646.30 Z" fill="#444"/>
<path d="M319.80 838.80 L318.30 831.80 L321.30 831.80 Z" fill="#444"/>
<text x="0" y="0" transform="translate(313.9 740.5) rotate(-90) scale(0.83 1)" class="st" text-anchor="middle" style="font-size:11px">2200</text>
<path d="M766.6 635.8 L799.6 656.7 L799.2 854.6 L766.6 882.5 Z" fill="#b9bdbf"/>
<path d="M770.4 640 L799.6 656.7 L799.6 675 L770.4 668 Z" fill="#d4d6d6"/>
<path d="M771 644 L782.5 649 L782.5 667 L771 666.9 Z" fill="#f08a3c"/>
<path d="M773 646 V666 M776 647 V666 M779 648 V667" stroke="#f6b27a" stroke-width="0.9"/>
<path d="M786.3 651.6 L796.4 657 L796.4 673.2 L786.3 670 Z" fill="#7a7f82"/>
<path d="M770.4 668 L799.6 675 L799.6 680 L770.4 672 Z" fill="#c6c9ca"/>
<path d="M770.4 672 L783.2 676 L783.2 858 L770.4 870 Z" fill="#adb1b3"/>
<path d="M783.2 676 L799.6 680 L799.2 845 L783.2 858 Z" fill="#b6babc"/>
<rect x="783" y="676" width="1" height="182" fill="#9ea2a4"/>
<path d="M769.5 852 L781.5 845 L781.5 866 L769.5 874 Z" fill="#8b9092"/>
<path d="M785 839 L797 832 L797 850 L785 857 Z" fill="#8b9092"/>
<path d="M790.5 837 L798.5 833 L798.5 843 L790.5 846 Z" fill="#d8dadb"/>
<rect x="766.6" y="635.8" width="3.8" height="246.7" fill="#dcdede"/>
<circle cx="715.5" cy="638.6" r="1.2" fill="none" stroke="#999" stroke-width="0.8"/>
<circle cx="761.5" cy="633" r="1.2" fill="none" stroke="#999" stroke-width="0.8"/>
<path d="M706.1 642.1 L766.6 636.2 L766.6 881.8 L706.1 874.9 Z" fill="#ebebea"/>
<path d="M706.1 642.1 L766 636.2 L766 642.1 L706.1 647.2 Z" fill="#d93a2f"/>
<rect x="755" y="638.3" width="4" height="1.6" fill="#f2c8b8"/>
<path d="M706.1 647.2 L766 642.1 L766 643 L706.1 648.2 Z" fill="#b9bbbb"/>
<circle cx="761" cy="655.8" r="1" fill="#9aa0a6"/>
<rect x="707" y="669.5" width="59.2" height="18.0" fill="#ececeb"/>
<rect x="707" y="686.0" width="59.2" height="1.5" fill="#8d9194"/>
<rect x="705.7" y="672.3" width="4.4" height="12.5" rx="1" fill="#a8adb1"/>
<rect x="706.5" y="673.0" width="1.4" height="11" fill="#7d8286"/>
<rect x="724.3" y="674.3" width="10.4" height="8.6" rx="3.5" fill="#d9dcde" stroke="#8a9095" stroke-width="0.7"/>
<rect x="725.5" y="677.6" width="8" height="1.6" fill="#f6f7f7"/>
<rect x="741.9" y="671.3" width="21.4" height="13.3" fill="#c3c8cc" stroke="#9ba1a6" stroke-width="0.7"/>
<rect x="750.7" y="673.8" width="7" height="7.7" fill="#1e1e20"/>
<circle cx="747" cy="677.7" r="0.9" fill="#222"/>
<rect x="763" y="671.5" width="1.6" height="13" fill="#8e959a"/>
<rect x="707" y="687.5" width="59.2" height="17.8" fill="#ececeb"/>
<rect x="707" y="703.8" width="59.2" height="1.5" fill="#8d9194"/>
<rect x="705.7" y="690.3" width="4.4" height="12.5" rx="1" fill="#a8adb1"/>
<rect x="706.5" y="691.0" width="1.4" height="11" fill="#7d8286"/>
<rect x="724.3" y="692.3" width="10.4" height="8.6" rx="3.5" fill="#d9dcde" stroke="#8a9095" stroke-width="0.7"/>
<rect x="725.5" y="695.6" width="8" height="1.6" fill="#f6f7f7"/>
<rect x="741.9" y="689.3" width="21.4" height="13.3" fill="#c3c8cc" stroke="#9ba1a6" stroke-width="0.7"/>
<rect x="750.7" y="691.8" width="7" height="7.7" fill="#1e1e20"/>
<circle cx="747" cy="695.7" r="0.9" fill="#222"/>
<rect x="763" y="689.5" width="1.6" height="13" fill="#8e959a"/>
<rect x="707" y="705.3" width="59.2" height="17.8" fill="#ececeb"/>
<rect x="707" y="721.6" width="59.2" height="1.5" fill="#8d9194"/>
<rect x="705.7" y="708.1" width="4.4" height="12.5" rx="1" fill="#a8adb1"/>
<rect x="706.5" y="708.8" width="1.4" height="11" fill="#7d8286"/>
<rect x="724.3" y="710.1" width="10.4" height="8.6" rx="3.5" fill="#d9dcde" stroke="#8a9095" stroke-width="0.7"/>
<rect x="725.5" y="713.4" width="8" height="1.6" fill="#f6f7f7"/>
<rect x="741.9" y="707.1" width="21.4" height="13.3" fill="#c3c8cc" stroke="#9ba1a6" stroke-width="0.7"/>
<rect x="750.7" y="709.6" width="7" height="7.7" fill="#1e1e20"/>
<circle cx="747" cy="713.5" r="0.9" fill="#222"/>
<rect x="763" y="707.3" width="1.6" height="13" fill="#8e959a"/>
<rect x="707" y="723.1" width="59.2" height="17.8" fill="#ececeb"/>
<rect x="707" y="739.4" width="59.2" height="1.5" fill="#8d9194"/>
<rect x="705.7" y="725.9" width="4.4" height="12.5" rx="1" fill="#a8adb1"/>
<rect x="706.5" y="726.6" width="1.4" height="11" fill="#7d8286"/>
<rect x="724.3" y="727.9" width="10.4" height="8.6" rx="3.5" fill="#d9dcde" stroke="#8a9095" stroke-width="0.7"/>
<rect x="725.5" y="731.2" width="8" height="1.6" fill="#f6f7f7"/>
<rect x="741.9" y="724.9" width="21.4" height="13.3" fill="#c3c8cc" stroke="#9ba1a6" stroke-width="0.7"/>
<rect x="750.7" y="727.4" width="7" height="7.7" fill="#1e1e20"/>
<circle cx="747" cy="731.3" r="0.9" fill="#222"/>
<rect x="763" y="725.1" width="1.6" height="13" fill="#8e959a"/>
<rect x="707" y="740.9" width="59.2" height="17.8" fill="#ececeb"/>
<rect x="707" y="757.2" width="59.2" height="1.5" fill="#8d9194"/>
<rect x="705.7" y="743.7" width="4.4" height="12.5" rx="1" fill="#a8adb1"/>
<rect x="706.5" y="744.4" width="1.4" height="11" fill="#7d8286"/>
<rect x="724.3" y="745.7" width="10.4" height="8.6" rx="3.5" fill="#d9dcde" stroke="#8a9095" stroke-width="0.7"/>
<rect x="725.5" y="749.0" width="8" height="1.6" fill="#f6f7f7"/>
<rect x="741.9" y="742.7" width="21.4" height="13.3" fill="#c3c8cc" stroke="#9ba1a6" stroke-width="0.7"/>
<rect x="750.7" y="745.2" width="7" height="7.7" fill="#1e1e20"/>
<circle cx="747" cy="749.1" r="0.9" fill="#222"/>
<rect x="763" y="742.9" width="1.6" height="13" fill="#8e959a"/>
<rect x="707" y="758.7" width="59.2" height="17.8" fill="#ececeb"/>
<rect x="707" y="775.0" width="59.2" height="1.5" fill="#8d9194"/>
<rect x="705.7" y="761.5" width="4.4" height="12.5" rx="1" fill="#a8adb1"/>
<rect x="706.5" y="762.2" width="1.4" height="11" fill="#7d8286"/>
<rect x="724.3" y="763.5" width="10.4" height="8.6" rx="3.5" fill="#d9dcde" stroke="#8a9095" stroke-width="0.7"/>
<rect x="725.5" y="766.8" width="8" height="1.6" fill="#f6f7f7"/>
<rect x="741.9" y="760.5" width="21.4" height="13.3" fill="#c3c8cc" stroke="#9ba1a6" stroke-width="0.7"/>
<rect x="750.7" y="763.0" width="7" height="7.7" fill="#1e1e20"/>
<circle cx="747" cy="766.9" r="0.9" fill="#222"/>
<rect x="763" y="760.7" width="1.6" height="13" fill="#8e959a"/>
<rect x="707" y="776.5" width="59.2" height="17.8" fill="#ececeb"/>
<rect x="707" y="792.8" width="59.2" height="1.5" fill="#8d9194"/>
<rect x="705.7" y="779.3" width="4.4" height="12.5" rx="1" fill="#a8adb1"/>
<rect x="706.5" y="780.0" width="1.4" height="11" fill="#7d8286"/>
<rect x="724.3" y="781.3" width="10.4" height="8.6" rx="3.5" fill="#d9dcde" stroke="#8a9095" stroke-width="0.7"/>
<rect x="725.5" y="784.6" width="8" height="1.6" fill="#f6f7f7"/>
<rect x="741.9" y="778.3" width="21.4" height="13.3" fill="#c3c8cc" stroke="#9ba1a6" stroke-width="0.7"/>
<rect x="750.7" y="780.8" width="7" height="7.7" fill="#1e1e20"/>
<circle cx="747" cy="784.7" r="0.9" fill="#222"/>
<rect x="763" y="778.5" width="1.6" height="13" fill="#8e959a"/>
<rect x="707" y="794.3" width="59.2" height="17.8" fill="#ececeb"/>
<rect x="707" y="810.6" width="59.2" height="1.5" fill="#8d9194"/>
<rect x="705.7" y="797.1" width="4.4" height="12.5" rx="1" fill="#a8adb1"/>
<rect x="706.5" y="797.8" width="1.4" height="11" fill="#7d8286"/>
<rect x="724.3" y="799.1" width="10.4" height="8.6" rx="3.5" fill="#d9dcde" stroke="#8a9095" stroke-width="0.7"/>
<rect x="725.5" y="802.4" width="8" height="1.6" fill="#f6f7f7"/>
<rect x="741.9" y="796.1" width="21.4" height="13.3" fill="#c3c8cc" stroke="#9ba1a6" stroke-width="0.7"/>
<rect x="750.7" y="798.6" width="7" height="7.7" fill="#1e1e20"/>
<circle cx="747" cy="802.5" r="0.9" fill="#222"/>
<rect x="763" y="796.3" width="1.6" height="13" fill="#8e959a"/>
<rect x="707" y="812.1" width="59.2" height="17.8" fill="#ececeb"/>
<rect x="707" y="828.4" width="59.2" height="1.5" fill="#8d9194"/>
<rect x="705.7" y="814.9" width="4.4" height="12.5" rx="1" fill="#a8adb1"/>
<rect x="706.5" y="815.6" width="1.4" height="11" fill="#7d8286"/>
<rect x="724.3" y="816.9" width="10.4" height="8.6" rx="3.5" fill="#d9dcde" stroke="#8a9095" stroke-width="0.7"/>
<rect x="725.5" y="820.2" width="8" height="1.6" fill="#f6f7f7"/>
<rect x="741.9" y="813.9" width="21.4" height="13.3" fill="#c3c8cc" stroke="#9ba1a6" stroke-width="0.7"/>
<rect x="750.7" y="816.4" width="7" height="7.7" fill="#1e1e20"/>
<circle cx="747" cy="820.3" r="0.9" fill="#222"/>
<rect x="763" y="814.1" width="1.6" height="13" fill="#8e959a"/>
<path d="M706.1 829.9 L766.6 831 L766.6 865.3 L706.1 859.6 Z" fill="#ebebea"/>
<circle cx="761.5" cy="849.2" r="1" fill="#8a9096"/>
<path d="M706.1 859.6 L766.6 865.3 L766.6 866.3 L706.1 860.6 Z" fill="#c4c6c6"/>
<path d="M714.6 864.7 L759.6 866 L759.6 877.4 L714.6 873.6 Z" fill="#6f7478"/>
<path d="M715 867 L759.5 869 M715 869.5 L759.5 871.5 M715 872 L759.5 874.5" stroke="#8d9296" stroke-width="0.6"/>
<path d="M706.1 874.9 L766.6 881.8 L766.6 882.8 L706.1 875.9 Z" fill="#b0b2b3"/>
<defs><linearGradient id="gold" x1="0" y1="0" x2="1" y2="1"><stop offset="0" stop-color="#e2cf6a"/><stop offset="0.45" stop-color="#c8a43c"/><stop offset="0.7" stop-color="#b9c06a"/><stop offset="1" stop-color="#a88a3a"/></linearGradient><linearGradient id="gold2" x1="0" y1="0" x2="1" y2="1"><stop offset="0" stop-color="#e8d08a"/><stop offset="0.5" stop-color="#d9b98a"/><stop offset="1" stop-color="#c9a56a"/></linearGradient><linearGradient id="blk" x1="0" y1="0" x2="1" y2="0"><stop offset="0" stop-color="#2a2a2a"/><stop offset="0.5" stop-color="#111"/><stop offset="1" stop-color="#333"/></linearGradient><linearGradient id="gry" x1="0" y1="0" x2="1" y2="0"><stop offset="0" stop-color="#c9cbcd"/><stop offset="1" stop-color="#e2e3e4"/></linearGradient></defs>
<path d="M127.3 638.2 L141.5 641.5 L142.3 706 L128 710.1 Z" fill="#1d1d1f"/>
<rect x="90.8" y="634" width="37" height="76" fill="url(#gry)"/>
<rect x="90.8" y="634" width="37" height="12" fill="#dcdedf"/>
<rect x="96" y="634" width="4.2" height="11" fill="#3b3d40"/>
<rect x="107" y="634" width="4.2" height="11" fill="#3b3d40"/>
<rect x="117.7" y="634" width="4.2" height="11" fill="#3b3d40"/>
<rect x="93.5" y="699" width="7.5" height="10" fill="#9a9da1"/>
<rect x="95.0" y="703" width="4.5" height="5" fill="#e0e1e2"/>
<rect x="104" y="699" width="7.5" height="10" fill="#9a9da1"/>
<rect x="105.5" y="703" width="4.5" height="5" fill="#e0e1e2"/>
<rect x="114.5" y="699" width="7.5" height="10" fill="#9a9da1"/>
<rect x="116.0" y="703" width="4.5" height="5" fill="#e0e1e2"/>
<path d="M87.6 652 L122 649 L124.1 697 L90 699.4 Z" fill="url(#gold)"/>
<path d="M92 656 L118 653.5 L119.5 694 L93 696 Z" fill="none" stroke="#8a7a30" stroke-width="0.8"/>
<rect x="100" y="670" width="11" height="20" fill="#5c5b50"/>
<rect x="102" y="673" width="7" height="14" fill="#d8d6c0"/>
<rect x="112" y="660" width="5" height="30" fill="#b89a3e"/>
<path d="M86 668 L108 651 L112 654 L90 671 Z" fill="#caa640"/>
<circle cx="99" cy="660" r="1.6" fill="#777"/>
<circle cx="111" cy="690" r="1.3" fill="#777"/>
<path d="M69 665.5 L92 661.5 L92.5 665.5 L69.5 669.5 Z" fill="#c9a23a"/>
<path d="M69 665.5 L92 661.5 L92.1 662.6 L69.1 666.6 Z" fill="#e8d27a"/>
<ellipse cx="60.8" cy="671.5" rx="11.5" ry="16.8" fill="#151515"/>
<ellipse cx="61.5" cy="671.5" rx="9.5" ry="14.5" fill="#242424"/>
<path d="M35 668 Q35 661 41.5 660.6 L48 660.5 Q56 661 56.5 670 L54 690 L52.5 722 Q52 725.5 47.5 725.6 L39 725.6 Q34.6 725.3 34.7 721 Z" fill="url(#blk)"/>
<rect x="37.4" y="663.2" width="7.8" height="33" rx="3.8" fill="#d31a4b"/>
<rect x="38.6" y="664.5" width="2.2" height="29" rx="1.1" fill="#e5557a"/>
<path d="M136.5 753 L148.8 756 L148.8 818 L137 822 Z" fill="#1b1b1d"/>
<rect x="99.4" y="748.8" width="38" height="18" fill="url(#gry)"/>
<rect x="99.4" y="748.8" width="38" height="16" fill="#dcdedf"/>
<rect x="103.7" y="748.8" width="3.4" height="12" fill="#3d3f42"/>
<rect x="114.4" y="748.8" width="3.4" height="12" fill="#3d3f42"/>
<rect x="125" y="748.8" width="3.4" height="12" fill="#3d3f42"/>
<rect x="119" y="765" width="18.5" height="56" fill="#d7d9db"/>
<rect x="122" y="770" width="5.3" height="30" fill="#2d5f70"/>
<rect x="123" y="772" width="3" height="3" fill="#9bd"/>
<rect x="97.3" y="811" width="30" height="10" fill="#8e9195"/>
<rect x="99" y="813" width="7" height="7" fill="#c9cbcd"/>
<rect x="108.5" y="813" width="7" height="7" fill="#c9cbcd"/>
<rect x="118" y="813" width="7" height="7" fill="#c9cbcd"/>
<path d="M89.7 765.5 L121 763.8 L121 812 L89.7 813.1 Z" fill="url(#gold2)"/>
<path d="M89.7 765.5 L121 763.8 L121 766 L89.7 767.5 Z" fill="#b99a5a"/>
<rect x="99.5" y="770" width="11" height="5.5" rx="1" fill="#3a3a36"/>
<rect x="100.5" y="802" width="10" height="6" rx="1" fill="#4a4a44"/>
<rect x="102" y="803.5" width="7" height="3" fill="#d8d2b8"/>
<circle cx="92.5" cy="769" r="1.2" fill="#8a7a50"/>
<circle cx="118" cy="768" r="1.2" fill="#8a7a50"/>
<circle cx="92.5" cy="808" r="1.2" fill="#8a7a50"/>
<circle cx="118" cy="807" r="1.2" fill="#8a7a50"/>
<path d="M82 789 L103.7 787.8 L103.7 791.7 L82 793 Z" fill="#c49a32"/>
<rect x="101.5" y="784.5" width="6.5" height="9.5" rx="2" fill="#a8822a"/>
<rect x="103" y="785.5" width="3" height="7.5" rx="1" fill="#e2c46a"/>
<ellipse cx="73.8" cy="790" rx="11.5" ry="14.5" fill="#151515"/>
<ellipse cx="74.5" cy="790" rx="9.5" ry="12.5" fill="#262626"/>
<path d="M49.5 787 Q49.5 780 56 779.8 L62 779.8 Q69.5 780.5 70 789 L67 808 L66 840 Q65.6 844.3 61.5 844.4 L53.5 844.4 Q49.3 844 49.3 840 Z" fill="url(#blk)"/>
<rect x="52.2" y="785" width="7.5" height="32.5" rx="3.7" fill="#d31a4b"/>
<rect x="53.3" y="786.5" width="2.1" height="28" rx="1" fill="#e5557a"/>
</svg>
<div class="dt" style="left:437px;top:627px;font-size:9.5px">≥800</div>
<div class="dt" style="left:514.3px;top:627px;font-size:9.5px">B</div>
<div class="dt" style="left:594.3px;top:627px;font-size:9.5px">≥1800</div>
<div class="lb" style="left:610.5px;top:894px">槽钢</div>
<div class="lb" style="left:580.5px;top:911px">电缆沟外形尺寸用户自定</div>
<div class="dt" style="left:279.5px;top:874px;font-size:9.5px;color:#666">4-14×30</div>
<div class="dt" style="left:246px;top:986.5px;font-size:9px">C</div>
<div class="dt" style="left:246.3px;top:997.8px;font-size:9px">A</div>
<div class="bt cx" style="left:803.5px;top:921px">(mm)</div>
<div class="bt" style="left:469.9px;top:945px">通用柜代号</div>
<div class="bt cx" style="left:586.1px;top:945px">A</div>
<div class="bt cx" style="left:636.5px;top:945px">B</div>
<div class="bt cx" style="left:684.8px;top:945px">C</div>
<div class="bt cx" style="left:734.5px;top:945px">D</div>
<div class="bt" style="left:784.6px;top:945px">备注</div>
<div class="bt cx" style="left:473.5px;top:968.0px">GCS -TG1010-4</div>
<div class="bt cx" style="left:585.5px;top:968.0px">1000</div>
<div class="bt cx" style="left:635.5px;top:968.0px">1000</div>
<div class="bt cx" style="left:684.8px;top:968.0px">900</div>
<div class="bt cx" style="left:734.5px;top:968.0px">900</div>
<div class="bt" style="left:784.6px;top:968.0px">联络柜</div>
<div class="bt cx" style="left:473.5px;top:991.0px">GCS -TG0810-4</div>
<div class="bt cx" style="left:585.5px;top:991.0px">800</div>
<div class="bt cx" style="left:635.5px;top:991.0px">1000</div>
<div class="bt cx" style="left:684.8px;top:991.0px">700</div>
<div class="bt cx" style="left:734.5px;top:991.0px">900</div>
<div class="bt" style="left:784.6px;top:991.0px">受电柜</div>
<div class="bt cx" style="left:473.5px;top:1014.1px">GCS -TG0808-4</div>
<div class="bt cx" style="left:585.5px;top:1014.1px">800</div>
<div class="bt cx" style="left:635.5px;top:1014.1px">800</div>
<div class="bt cx" style="left:684.8px;top:1014.1px">700</div>
<div class="bt cx" style="left:734.5px;top:1014.1px">700</div>
<div class="bt" style="left:784.6px;top:1014.1px">受电柜</div>
<div class="bt cx" style="left:473.5px;top:1037.2px">GCS -TG0608-4</div>
<div class="bt cx" style="left:585.5px;top:1037.2px">600</div>
<div class="bt cx" style="left:635.5px;top:1037.2px">600</div>
<div class="bt cx" style="left:684.8px;top:1037.2px">500</div>
<div class="bt cx" style="left:734.5px;top:1037.2px">500</div>
<div class="bt" style="left:784.6px;top:1037.2px">受电柜</div>
<div class="a" style="left:31px;top:1050.5px;font-size:13px;line-height:16px;color:#444">受电、联络柜安装示意图</div>

</body></html>
